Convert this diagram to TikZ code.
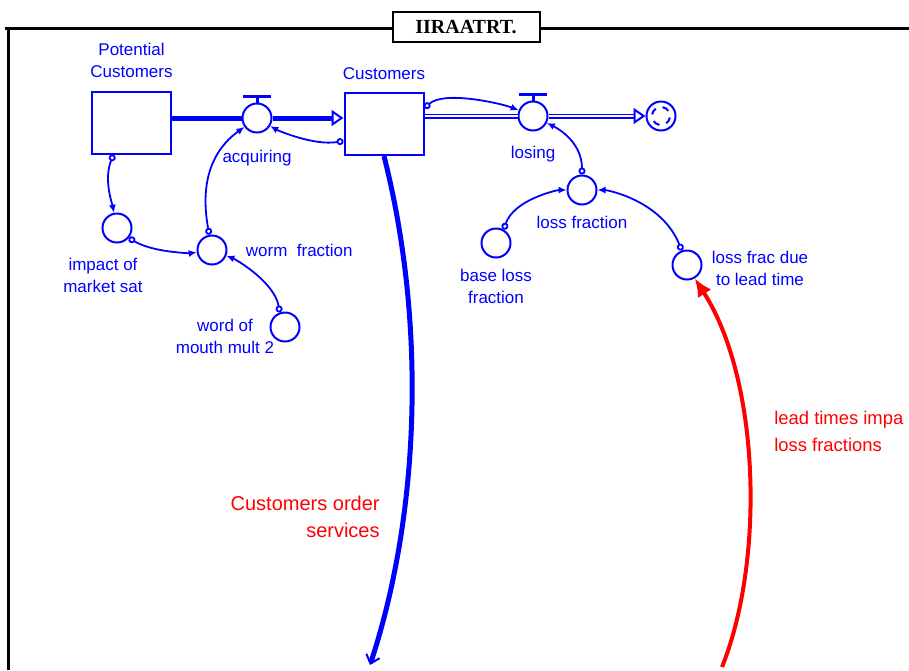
\documentclass[tikz,border=0pt]{standalone}
\usepackage{fontspec}
\setmainfont{Liberation Sans}
\newfontfamily\titlefont{Liberation Serif}
\usetikzlibrary{arrows.meta,positioning}

\begin{document}
\begin{tikzpicture}[x=0.5pt,y=-0.5pt,
        stock/.style={draw=blue,line width=1pt,minimum width=39.5pt,
          minimum height=31pt,inner sep=0pt},
        aux/.style={draw=blue,circle,line width=1pt,minimum size=14.5pt,inner sep=0pt},
        lbl/.style={text=blue,font=\fontsize{8.5}{11}\selectfont,align=center,inner sep=1pt},
        note/.style={text=red,font=\fontsize{10}{13.5}\selectfont,inner sep=0pt},
        conn/.style={draw=blue,line width=0.9pt,
          {Circle[open,length=3.5pt,width=3.5pt,fill=white]}-{Latex[length=4pt,width=3.5pt]}},
        pipe/.style={draw=blue,line width=2.5pt},
        outpipe/.style={draw=blue,line width=0.8pt,double=white,double distance=0.9pt},
        pipehead/.style={-{Triangle[open,line width=1pt,length=6pt,width=8pt,fill=white]}}]

  \clip (0,0) rectangle (909,670);

  % frame and title
  \draw[line width=1.5pt] (5,28) -- (909,28);
  \draw[line width=1.5pt] (8,28) -- (8,670);
  \node[draw,line width=1pt,fill=white,minimum width=73.5pt,minimum height=15pt,
        font=\titlefont\bfseries\fontsize{10}{12}\selectfont] (title) at (466,27) {IIRAATRT.};

  % stocks
  \node[stock] (pot) at (131.5,122.5) {};
  \node[lbl] (potlbl) [above=5pt of pot] {Potential\\Customers};
  \node[stock] (cust) at (384,124) {};
  \node[lbl] (custlbl) [above=5pt of cust] {Customers};

  % flows
  \node[aux] (acq) at (257,118) {};
  \node[lbl] (acqlbl) [below=7pt of acq] {acquiring};
  \node[aux] (los) at (533,116) {};
  \node[lbl] (loslbl) [below=6pt of los] {losing};
  \node[aux] (cloud) at (661,116) {};
  \foreach \a in {10,100,190,280}
    \draw[blue,line width=1pt] (cloud.center) ++(\a:9) arc[start angle=\a,delta angle=45,radius=9];

  \foreach \v in {acq,los}
    \draw[blue,line width=1.5pt] (\v.north) -- ++(0,-6) ++(-14,0) -- ++(28,0);

  \draw[pipe] (acq.west -| pot.east) -- (acq.west);
  \draw[pipe,pipehead] (acq.east) -- (acq.east -| cust.west);
  \draw[outpipe] (los.west -| cust.east) -- (los.west);
  \draw[outpipe,pipehead] (los.east) -- (cloud.west);

  % converters
  \node[aux] (impact) at (117,228) {};
  \node[lbl] (impactlbl) at (103,275) {impact of\\market sat};
  \node[aux] (worm) at (212,250) {};
  \node[lbl] (wormlbl) [right=8pt of worm] {worm\ \ fraction};
  \node[aux] (wom) at (285,327) {};
  \node[lbl] (womlbl) at (225,336) {word of\\mouth mult 2};
  \node[aux] (lossf) at (582,190) {};
  \node[lbl] (lossflbl) [below=4pt of lossf] {loss fraction};
  \node[aux] (base) at (496,243) {};
  \node[lbl] (baselbl) [below=4pt of base] {base loss\\fraction};
  \node[aux] (lead) at (687,265) {};
  \node[lbl] (leadlbl) at (760,268) {loss frac due\\to lead time};

  % connectors
  \draw[conn] ([yshift=-8pt]cust.north east) .. controls +(20,-18) and +(-30,-12) .. (los);
  \draw[conn] ([yshift=7.5pt]cust.south west) .. controls +(-30,5) and +(20,12) .. (acq);
  \draw[conn] ([xshift=-9pt]pot.south) .. controls +(-10,25) and +(-5,-25) .. (impact);
  \draw[conn] (impact.-40) .. controls +(25,15) and +(-20,3) .. (worm);
  \draw[conn] (worm.100) .. controls +(-12,-65) and +(-35,25) .. (acq);
  \draw[conn] (wom.110) .. controls +(-5,-30) and +(25,10) .. (worm);
  \draw[conn] (lossf.north) .. controls +(0,-35) and +(20,10) .. (los);
  \draw[conn] (base.60) .. controls +(10,-30) and +(-25,0) .. (lossf);
  \draw[conn] (lead.110) .. controls +(-20,-50) and +(25,0) .. (lossf);

  % causal notes
  \coordinate (orders) at (370,665);
  \draw[blue,line width=2.5pt,-{Straight Barb[length=4pt,width=7pt,line width=1pt]}]
    (cust.south) .. controls (428,330) and (418,520) .. (orders);
  \node[note,align=right,anchor=east] (orderslbl) at (380,517) {Customers order\\services};

  \coordinate (leadsrc) at (722,667);
  \draw[red,line width=2pt,-{Latex[length=9pt,width=8pt]}]
    (leadsrc) .. controls (765,560) and (760,380) .. (lead.-60);
  \node[note,align=left,anchor=west,font=\fontsize{9.2}{13.5}\selectfont] (leadnote)
    at (774,431) {lead times impa\\loss fractions};

\end{tikzpicture}
\end{document}
